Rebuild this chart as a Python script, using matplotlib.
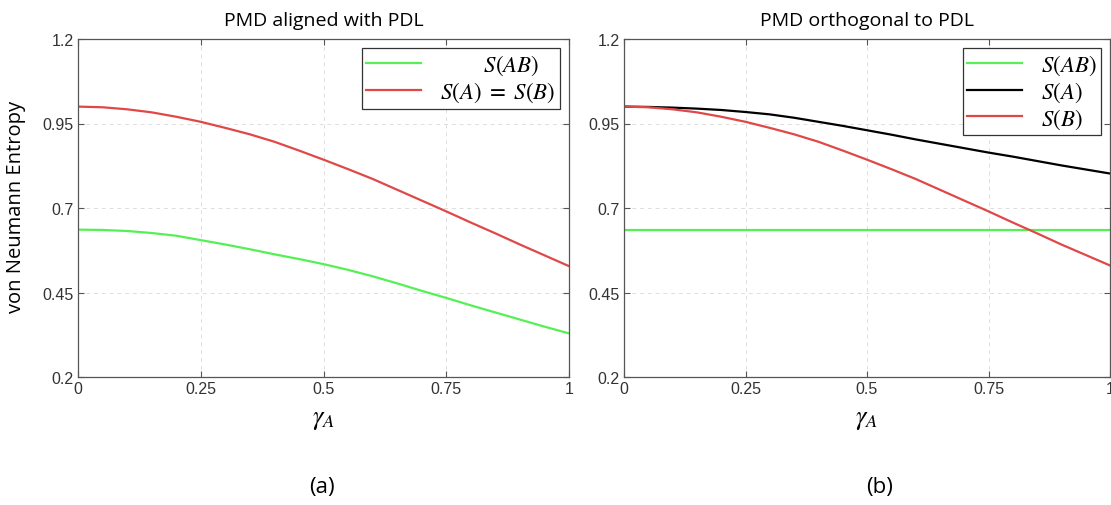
import matplotlib
matplotlib.use("Agg")
import matplotlib.pyplot as plt

gamma = [0.0, 0.05, 0.1, 0.15, 0.2, 0.25, 0.3, 0.35, 0.4, 0.45, 0.5,
         0.55, 0.6, 0.65, 0.7, 0.75, 0.8, 0.85, 0.9, 0.95, 1.0]

# Panel (a): PMD aligned with PDL
a_SAB = [0.636, 0.635, 0.632, 0.626, 0.618, 0.605, 0.592, 0.578, 0.563, 0.549, 0.534,
         0.517, 0.498, 0.477, 0.455, 0.434, 0.412, 0.391, 0.370, 0.349, 0.329]
a_SA_SB = [1.000, 0.998, 0.992, 0.983, 0.970, 0.955, 0.937, 0.918, 0.896, 0.870, 0.843,
           0.815, 0.786, 0.754, 0.722, 0.690, 0.657, 0.625, 0.592, 0.560, 0.528]

# Panel (b): PMD orthogonal to PDL
b_SAB = [0.636] * 21
b_SA = [1.000, 0.999, 0.997, 0.994, 0.990, 0.984, 0.977, 0.967, 0.955, 0.943, 0.930,
        0.917, 0.903, 0.890, 0.877, 0.864, 0.852, 0.839, 0.826, 0.814, 0.802]
b_SB = [1.000, 0.998, 0.992, 0.983, 0.970, 0.955, 0.937, 0.918, 0.896, 0.870, 0.843,
        0.815, 0.786, 0.754, 0.722, 0.690, 0.657, 0.625, 0.592, 0.561, 0.530]

xticks = [0, 0.25, 0.5, 0.75, 1]
xticklabels = ["0", "0.25", "0.5", "0.75", "1"]
yticks = [0.2, 0.45, 0.7, 0.95, 1.2]
yticklabels = ["0.2", "0.45", "0.7", "0.95", "1.2"]

GREEN = "#55f055"
RED = "#e04848"
BLACK = "#000000"

plt.rcParams["mathtext.fontset"] = "stix"
TICKFONT = ["Liberation Sans Narrow", "Liberation Sans", "DejaVu Sans"]
TXTFONT = ["Open Sans", "DejaVu Sans"]

fig = plt.figure(figsize=(11.11, 5.06), dpi=100)
ax1 = fig.add_axes([78 / 1111, 1 - 378 / 506, 491 / 1111, 338 / 506])
ax2 = fig.add_axes([624 / 1111, 1 - 378 / 506, 486 / 1111, 338 / 506])

def style(ax, title):
    ax.set_xlim(0, 1)
    ax.set_ylim(0.2, 1.2)
    ax.set_xticks(xticks)
    ax.set_yticks(yticks)
    ax.set_xticklabels(xticklabels, family=TICKFONT, fontsize=11.5, color="#333333")
    ax.set_yticklabels(yticklabels, family=TICKFONT, fontsize=11.5, color="#333333")
    ax.tick_params(direction="in", top=True, right=True, length=4, width=0.8,
                   color="#555555", pad=3)
    ax.grid(True, linestyle=(0, (4, 4)), color="#dddddd", linewidth=0.7)
    for s in ax.spines.values():
        s.set_color("#555555")
        s.set_linewidth(0.9)
    ax.set_title(title, family=TXTFONT, fontsize=14, pad=10)
    ax.set_xlabel(r"$\gamma_A$", fontsize=19, labelpad=6)

legkw = dict(loc="upper right", fontsize=16.5, frameon=True, fancybox=False,
             edgecolor="#333333", framealpha=1, handlelength=2.4,
             borderaxespad=0.4, borderpad=0.2, labelspacing=0.1, handletextpad=0.8)

ax1.plot(gamma, a_SAB, color=GREEN, lw=1.6, label=r"      $S(AB)$")
ax1.plot(gamma, a_SA_SB, color=RED, lw=1.6, label=r"$S(A)\ =\ S(B)$")
style(ax1, "PMD aligned with PDL")
ax1.set_ylabel("von Neumann Entropy", family=TXTFONT, fontsize=14.5, va="center")
ax1.yaxis.set_label_coords((16 - 78) / 491, 0.507)
leg1 = ax1.legend(**legkw)
leg1.get_frame().set_linewidth(0.9)

ax2.plot(gamma, b_SAB, color=GREEN, lw=1.6, label=r"$S(AB)$")
ax2.plot(gamma, b_SA, color=BLACK, lw=1.6, label=r"$S(A)$")
ax2.plot(gamma, b_SB, color=RED, lw=1.6, label=r"$S(B)$")
style(ax2, "PMD orthogonal to PDL")
leg2 = ax2.legend(**legkw)
leg2.get_frame().set_linewidth(0.9)

fig.text(322 / 1111, 1 - 488 / 506, "(a)", family=TXTFONT, fontsize=16, ha="center", va="center")
fig.text(880 / 1111, 1 - 488 / 506, "(b)", family=TXTFONT, fontsize=16, ha="center", va="center")

fig.savefig("out.png", dpi=100)
